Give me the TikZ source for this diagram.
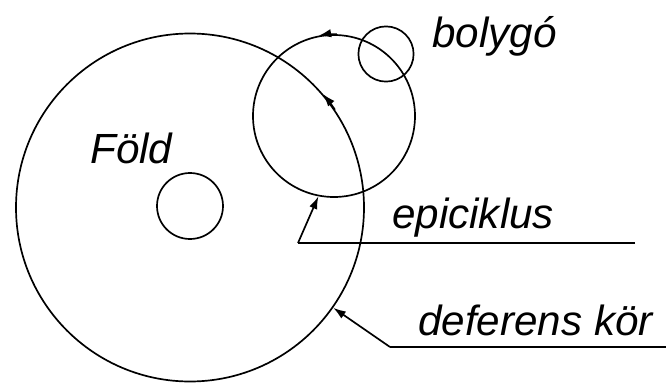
\documentclass[tikz,border=0pt]{standalone}
\usepackage{fontspec}
\setmainfont{Liberation Sans}
\usetikzlibrary{arrows.meta, calc}

\begin{document}
\begin{tikzpicture}[font=\itshape, >={Latex[length=9pt, width=6pt]}]

    % --- Definition der Stile ---
    \tikzset{
        kreis/.style={circle, draw=black, line width=1.2pt, inner sep=0pt},
        linie/.style={line width=1.2pt},
        beschriftung/.style={anchor=base west, inner sep=0pt, font=\itshape\fontsize{30}{36}\selectfont}
    }

    \useasboundingbox (0,0) rectangle (16.65,9.6);

    % --- Kreise ---
    \node[kreis, minimum size=8.7cm]  (deferens)  at (4.75, 4.4125) {};
    \node[kreis, minimum size=1.65cm] (fold)      at (4.75, 4.45)   {};
    \node[kreis, minimum size=4.05cm] (epiciklus) at (8.35, 6.7)    {};
    \node[kreis, minimum size=1.38cm] (bolygo)    at (9.65, 8.25)   {};

    % --- Bewegungsrichtung (Pfeile auf den Kreisen) ---
    \draw[->, linie] (deferens.34) arc[start angle=34, end angle=40.5, radius=4.35];
    \draw[->, linie] (epiciklus.88) arc[start angle=88, end angle=101, radius=2.025];

    % --- Beschriftungen ---
    \node[beschriftung] (bolygo-text) at (10.8, 8.425) {bolygó};
    \node[beschriftung] (fold-text)   at (2.25, 5.525) {Föld};
    \node[beschriftung] (epi-text)    at (9.8, 3.9)    {epiciklus};
    \node[beschriftung] (def-text)    at (10.45, 1.225){deferens kör};

    % --- Hinweislinien ---
    \coordinate (epi-ende)  at (15.875, 3.525);
    \coordinate (epi-knick) at (7.45, 3.525);
    \draw[linie] (epi-ende) -- (epi-knick);
    \draw[->, linie] (epi-knick) -- (epiciklus.259);

    \coordinate (def-ende)  at (16.65, 0.925);
    \coordinate (def-knick) at (9.75, 0.925);
    \draw[linie] (def-ende) -- (def-knick);
    \draw[->, linie] (def-knick) -- (deferens.-35);

\end{tikzpicture}
\end{document}
